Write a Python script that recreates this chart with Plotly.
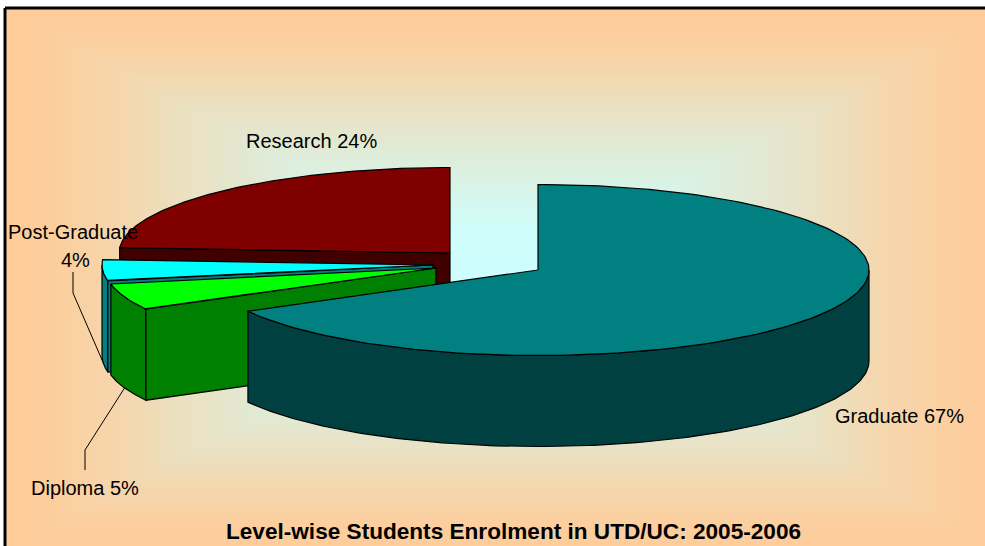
import math
import plotly.graph_objects as go

# ---- data ----
categories = ["Graduate", "Diploma", "Post-Graduate", "Research"]
shares = [67, 5, 4, 24]
title_text = "Level-wise Students Enrolment in UTD/UC: 2005-2006"

# ---- styles and exploded slice placement ----
top_colors = ["#008080", "#00FF00", "#00FFFF", "#800000"]
side_colors = ["#004040", "#008000", "#008080", "#400000"]
centers = [(538, 270), (436, 268), (433, 265), (450, 253)]
RX, RY, DEPTH = 331, 85.5, 91
FONT = "Liberation Sans, Arial, sans-serif"
W, H = 985, 546

# slice angle spans (degrees clockwise from 12 o'clock)
spans, acc = [], 0.0
for v in shares:
    a0 = acc
    acc += v * 360 / sum(shares)
    spans.append((a0, acc))


def pt(c, deg, dz=0):
    r = math.radians(deg)
    return c[0] + RX * math.sin(r), c[1] - RY * math.cos(r) + dz


def arc(c, a, b, dz=0, n=160):
    return [pt(c, a + (b - a) * i / n, dz) for i in range(n + 1)]


def poly(points, color):
    xs = [p[0] for p in points] + [points[0][0]]
    ys = [p[1] for p in points] + [points[0][1]]
    return go.Scatter(x=xs, y=ys, mode="lines", fill="toself", fillcolor=color,
                      line=dict(color="black", width=1.2), hoverinfo="skip", showlegend=False)


def slice_traces(i):
    c, (a, b) = centers[i], spans[i]
    out = []
    # outer wall: front-facing part of the rim, 90..270 degrees
    lo, hi = max(a, 90), min(b, 270)
    if lo < hi:
        out.append(poly(arc(c, lo, hi) + arc(c, hi, lo, DEPTH), side_colors[i]))
    # cut wall that faces the viewer (the starting edge of a left-hand slice)
    if 180 < a < 360:
        s = pt(c, a)
        out.append(poly([s, c, (c[0], c[1] + DEPTH), (s[0], s[1] + DEPTH)], side_colors[i]))
    # top face
    out.append(poly([c] + arc(c, a, b), top_colors[i]))
    return out


fig = go.Figure()
# painter's order: back to front
for i in [3, 2, 1, 0]:
    for tr in slice_traces(i):
        fig.add_trace(tr)

# ---- background: rectangular centre gradient as nested rectangles ----
L, T, R, B = 5, 8, 1005, 553
cx, cy = (L + R) / 2, (T + B) / 2
RAMP = [(0, 0), (.2, .05), (.48, .39), (.62, .57), (.75, .77), (.9, .95), (1, 1)]


def ramp(t):
    for (t0, c0), (t1, c1) in zip(RAMP, RAMP[1:]):
        if t <= t1:
            return c0 + (c1 - c0) * (t - t0) / (t1 - t0)
    return 1


shapes = []
STEPS = 80
for k in range(STEPS, 0, -1):
    t = k / STEPS
    c = ramp(t)
    col = "rgb(%d,%d,%d)" % (round(204 + 51 * c), round(255 - 51 * c), round(255 - 102 * c))
    shapes.append(dict(type="rect", layer="below", xref="x", yref="y",
                       x0=cx - (R - L) / 2 * t, x1=cx + (R - L) / 2 * t,
                       y0=cy - (B - T) / 2 * t, y1=cy + (B - T) / 2 * t,
                       fillcolor=col, line=dict(width=0)))
# chart frame
shapes.append(dict(type="line", xref="x", yref="y", x0=L, x1=L, y0=T, y1=B, line=dict(color="black", width=3)))
shapes.append(dict(type="line", xref="x", yref="y", x0=L, x1=R, y0=T, y1=T, line=dict(color="black", width=3)))

# leader lines start on the slice rims
pg = pt(centers[2], sum(spans[2]) / 2, DEPTH)
dp = pt(centers[1], sum(spans[1]) / 2, DEPTH)
for path in ([(73, 272), (73, 293), pg], [(85, 470), (85, 450), dp]):
    shapes.append(dict(type="path", xref="x", yref="y", layer="above",
                       path="M" + " L".join(f"{x},{y}" for x, y in path),
                       line=dict(color="black", width=1)))

label = lambda i: f"{categories[i]} {shares[i]}%"
FS = 20
ann = [
    dict(x=311, y=141, text=label(3)),
    dict(x=899.5, y=416, text=label(0)),
    dict(x=85, y=488, text=label(1)),
    dict(x=73, y=232, text=categories[2]),
    dict(x=75, y=260, text=f"{shares[2]}%"),
]
annotations = [dict(xref="x", yref="y", showarrow=False, xanchor="center", yanchor="middle",
                    font=dict(family=FONT, size=FS, color="black"), **a) for a in ann]
annotations.append(dict(xref="x", yref="y", x=513.5, y=531, text=f"<b>{title_text}</b>", showarrow=False,
                        xanchor="center", yanchor="middle", font=dict(family=FONT, size=22.6, color="black")))

fig.update_layout(
    width=W, height=H, margin=dict(l=0, r=0, t=0, b=0), paper_bgcolor="white", plot_bgcolor="white",
    xaxis=dict(range=[0, W], visible=False, fixedrange=True),
    yaxis=dict(range=[H, 0], visible=False, fixedrange=True),
    shapes=shapes, annotations=annotations, showlegend=False,
)
fig.write_html("out.html", config=dict(displayModeBar=False),
               post_script="document.body.style.margin='0';document.body.style.overflow='hidden';")
